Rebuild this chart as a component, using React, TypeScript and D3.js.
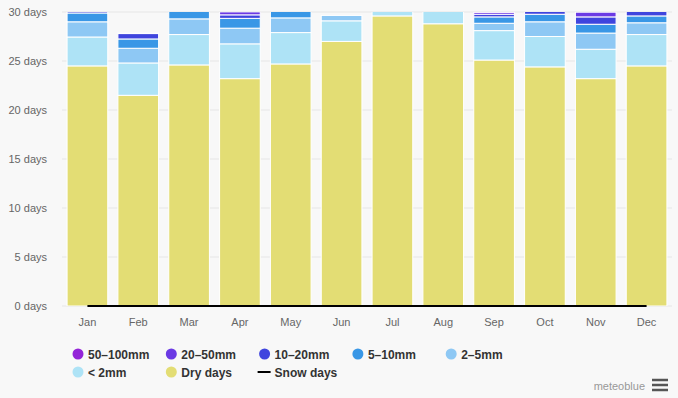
import React from "react";
import * as d3 from "d3";

// monthly precipitation days
const months = ["Jan", "Feb", "Mar", "Apr", "May", "Jun", "Jul", "Aug", "Sep", "Oct", "Nov", "Dec"];
const dryDays = [24.5, 21.5, 24.6, 23.2, 24.7, 27.0, 29.6, 28.8, 25.1, 24.4, 23.2, 24.5];
const lt2mm = [2.95, 3.3, 3.1, 3.55, 3.2, 2.1, 1.0, 1.6, 3.0, 3.1, 3.0, 3.2];
const mm2to5 = [1.55, 1.5, 1.6, 1.6, 1.5, 0.55, 0.3, 0.5, 0.75, 1.5, 1.65, 1.2];
const mm5to10 = [0.9, 0.95, 1.0, 1.0, 1.1, 0, 0, 0.1, 0.65, 0.77, 0.9, 0.7];
const mm10to20 = [0.6, 0.55, 0.5, 0.36, 0.4, 0, 0, 0, 0.27, 0.6, 0.75, 0.6];
const mm20to50 = [0.3, 0.1, 0.2, 0.3, 0.2, 0, 0, 0, 0.2, 0.3, 0.5, 0.3];
const mm50to100 = [0.1, 0, 0.1, 0, 0.1, 0, 0, 0, 0.03, 0.1, 0.1, 0.1];
const snowDays = [0, 0, 0, 0, 0, 0, 0, 0, 0, 0, 0, 0];
const yTicks = [0, 5, 10, 15, 20, 25, 30];

const W = 678;
const H = 398;
const margin = { top: 12, right: 6, bottom: 92, left: 62 };

const series = [
  { key: "dry", name: "Dry days", values: dryDays, color: "#e3dd74" },
  { key: "lt2", name: "< 2mm", values: lt2mm, color: "#aee3f6" },
  { key: "m2", name: "2-5mm", values: mm2to5, color: "#8ec8f4" },
  { key: "m5", name: "5-10mm", values: mm5to10, color: "#3997e6" },
  { key: "m10", name: "10-20mm", values: mm10to20, color: "#3f45de" },
  { key: "m20", name: "20-50mm", values: mm20to50, color: "#6b3ae4" },
  { key: "m50", name: "50-100mm", values: mm50to100, color: "#9424d8" },
];

// legend order as in the original
const legendItems = [
  { name: "50–100mm", color: "#9424d8" },
  { name: "20–50mm", color: "#6b3ae4" },
  { name: "10–20mm", color: "#3f45de" },
  { name: "5–10mm", color: "#3997e6" },
  { name: "2–5mm", color: "#8ec8f4" },
  { name: "< 2mm", color: "#aee3f6" },
  { name: "Dry days", color: "#e3dd74" },
  { name: "Snow days", color: null },
];

const App = () => {
  const x = d3
    .scaleBand()
    .domain(months)
    .range([margin.left, W - margin.right])
    .paddingInner(0.2)
    .paddingOuter(0.1);

  const y = d3.scaleLinear().domain([0, 30]).range([H - margin.bottom, margin.top]);

  const rows = months.map((m, i) => {
    const r: any = { month: m };
    series.forEach((s) => (r[s.key] = s.values[i]));
    return r;
  });
  const stacked = d3.stack().keys(series.map((s) => s.key))(rows);

  const snowLine = d3
    .line<number>()
    .x((_, i) => (x(months[i]) as number) + x.bandwidth() / 2)
    .y((d) => y(d));

  const font = "'Liberation Sans', Arial, sans-serif";

  return (
    <svg
      width={W}
      height={H}
      style={{ position: "fixed", top: 0, left: 0, background: "#f8f8f8" }}
    >
      <defs>
        <clipPath id="plot">
          <rect x={margin.left} y={margin.top} width={W - margin.left} height={H - margin.bottom - margin.top} />
        </clipPath>
      </defs>

      {/* grid */}
      {yTicks.map((t) => (
        <g key={t}>
          <line x1={margin.left} x2={W - margin.right} y1={y(t)} y2={y(t)} stroke="#e6e6e6" />
          <text
            x={47}
            y={y(t) + 4}
            textAnchor="end"
            fontSize={11}
            fill="#666"
            fontFamily={font}
          >
            {t} days
          </text>
        </g>
      ))}

      {/* stacked bars */}
      <g clipPath="url(#plot)">
        {stacked.map((layer, li) => (
          <g key={layer.key} fill={series[li].color}>
            {layer.map((d, i) =>
              d[1] - d[0] > 0 ? (
                <rect
                  key={i}
                  x={x(months[i])}
                  width={x.bandwidth()}
                  y={y(d[1])}
                  height={y(d[0]) - y(d[1])}
                  stroke="#fff"
                  strokeWidth={1}
                />
              ) : null
            )}
          </g>
        ))}
      </g>

      {/* snow days */}
      <path d={snowLine(snowDays) || ""} fill="none" stroke="#000" strokeWidth={2} />

      {/* x labels */}
      {months.map((m) => (
        <text
          key={m}
          x={(x(m) as number) + x.bandwidth() / 2}
          y={326}
          textAnchor="middle"
          fontSize={11}
          fill="#666"
          fontFamily={font}
        >
          {m}
        </text>
      ))}

      {/* legend */}
      {legendItems.map((item, i) => {
        const col = i < 5 ? i : i - 5;
        const row = i < 5 ? 0 : 1;
        const lx = 78 + col * 93.3;
        const ly = 354 + row * 18;
        return (
          <g key={item.name}>
            {item.color ? (
              <circle cx={lx} cy={ly} r={5.5} fill={item.color} />
            ) : (
              <line x1={lx - 7} x2={lx + 6} y1={ly} y2={ly} stroke="#000" strokeWidth={2} />
            )}
            <text
              x={lx + 10}
              y={ly + 4.5}
              fontSize={12}
              fontWeight="bold"
              fill="#333"
              fontFamily={font}
            >
              {item.name}
            </text>
          </g>
        );
      })}

      {/* credits and menu */}
      <text x={645} y={390} textAnchor="end" fontSize={11} fill="#999" fontFamily={font}>
        meteoblue
      </text>
      {[380, 385, 390].map((yy) => (
        <line key={yy} x1={652} x2={668} y1={yy} y2={yy} stroke="#555" strokeWidth={2.5} />
      ))}
    </svg>
  );
};

export default App;
